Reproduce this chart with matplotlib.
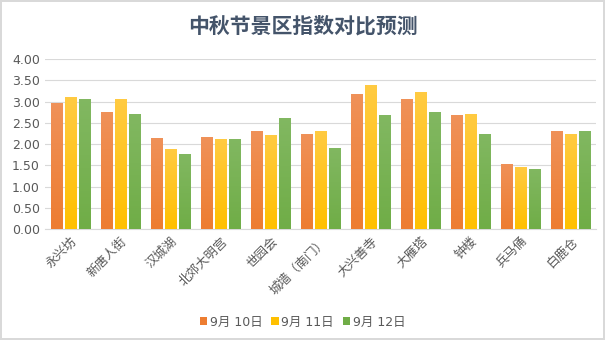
import matplotlib
import matplotlib.pyplot as plt
import numpy as np
from matplotlib.colors import LinearSegmentedColormap
from matplotlib.patches import Patch

matplotlib.use("Agg")

plt.rcParams["font.family"] = ["DejaVu Sans", "Noto Sans CJK SC"]

categories = ["永兴坊", "新唐人街", "汉城湖", "北郊大明宫", "世园会", "城墙（南门）",
              "大兴善寺", "大雁塔", "钟楼", "兵马俑", "白鹿仓"]
series_names = ["9月 10日", "9月 11日", "9月 12日"]
sep10 = [2.97, 2.75, 2.14, 2.16, 2.31, 2.24, 3.18, 3.06, 2.68, 1.53, 2.31]
sep11 = [3.11, 3.06, 1.88, 2.12, 2.21, 2.31, 3.39, 3.22, 2.71, 1.46, 2.24]
sep12 = [3.06, 2.71, 1.76, 2.12, 2.61, 1.91, 2.68, 2.75, 2.24, 1.41, 2.31]
yticks = [0, 0.5, 1, 1.5, 2, 2.5, 3, 3.5, 4]

# (底色, 顶部浅色) 渐变
colors = [("#ED7D31", "#F0925A"), ("#FFC000", "#FFCB45"), ("#70AD47", "#82B862")]
text_color = "#595959"

fig = plt.figure(figsize=(6.05, 3.4), dpi=100)
fig.patch.set_edgecolor("#D9D9D9")
fig.patch.set_linewidth(1.5)
ax = fig.add_axes([0.075, 0.326, 0.91, 0.5])

x = np.arange(len(categories))
width = 0.23
step = 0.28
grad = np.linspace(0, 1, 64).reshape(-1, 1)
handles = []
for i, (vals, (base, light)) in enumerate(zip([sep10, sep11, sep12], colors)):
    # 柱子本身透明, 只作为渐变图像的裁剪路径
    bars = ax.bar(x + (i - 1) * step, vals, width=width, color="none",
                  linewidth=0, zorder=3)
    cmap = LinearSegmentedColormap.from_list(f"g{i}", [base, light])
    for b in bars:
        x0, w, h = b.get_x(), b.get_width(), b.get_height()
        im = ax.imshow(grad, cmap=cmap, extent=(x0 - 0.05, x0 + w + 0.05, 0, h + 0.1),
                       origin="lower", aspect="auto", interpolation="nearest", zorder=3.5)
        im.set_clip_path(b)
    handles.append(Patch(facecolor=base, label=series_names[i]))

ax.set_xlim(-0.5, len(categories) - 0.5)
ax.set_ylim(0, 4)
ax.set_yticks(yticks)
ax.set_yticklabels([f"{v:.2f}" for v in yticks], fontsize=9, color=text_color)
ax.set_xticks(x)
ax.set_xticklabels(categories, rotation=45, ha="right", rotation_mode="anchor",
                   fontsize=9, color=text_color)
ax.tick_params(length=0, pad=4)
ax.grid(axis="y", color="#D9D9D9", linewidth=0.8, zorder=0)
for s in ["top", "right", "left"]:
    ax.spines[s].set_visible(False)
ax.spines["bottom"].set_color("#D9D9D9")

fig.suptitle("中秋节景区指数对比预测", x=0.5, y=0.955, fontsize=15, fontweight="bold",
             color="#44546A", family=["Noto Sans CJK SC"])

fig.legend(handles=handles, loc="lower center", bbox_to_anchor=(0.5, 0.0), ncol=3,
           frameon=False, fontsize=9, handlelength=0.6, handleheight=0.6,
           handletextpad=0.2, columnspacing=0.7, labelcolor=text_color)

fig.savefig("out.png", dpi=100)
